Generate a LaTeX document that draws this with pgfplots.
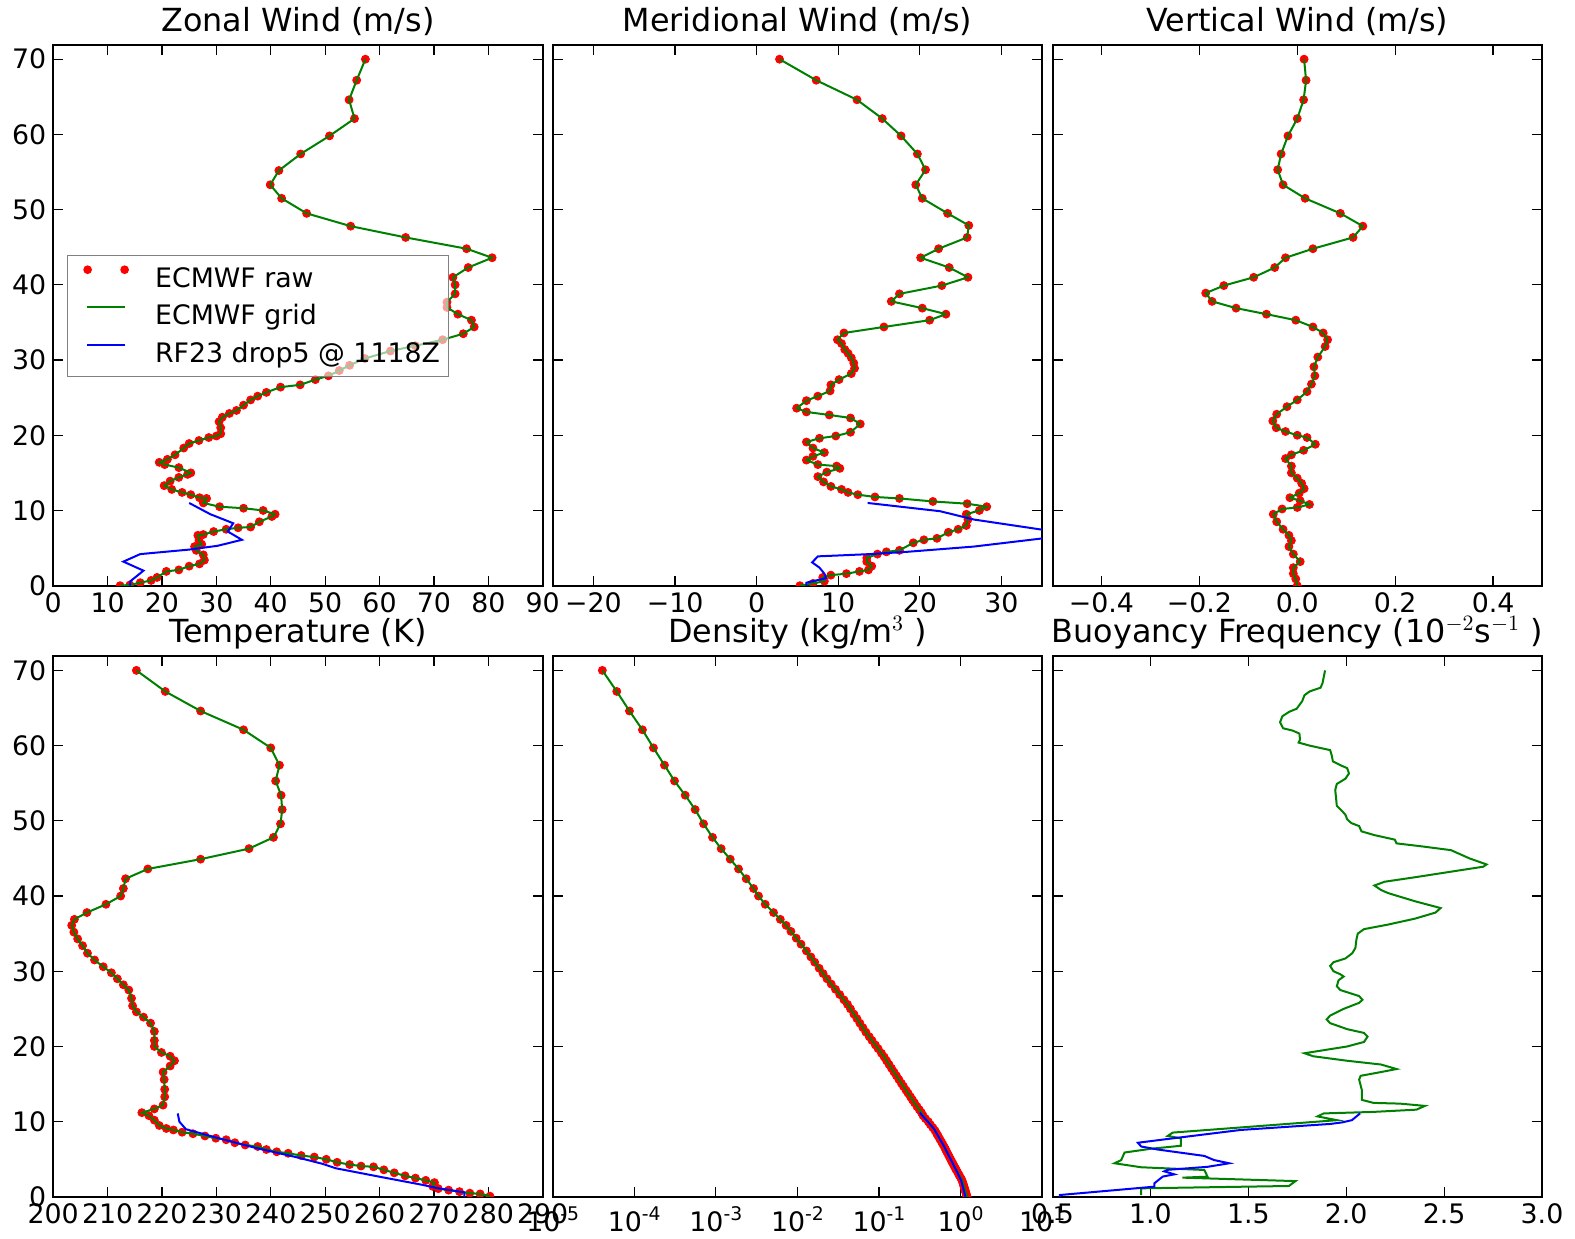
\documentclass[border=0pt]{standalone}
\usepackage{pgfplots}
\pgfplotsset{compat=1.18}
\usepackage{pgfplotstable}
\usepackage{fontspec}
\setmainfont{DejaVu Sans}

\newcommand\tickfont{\fontsize{13.4}{16}\selectfont}
\newcommand\titlefont{\fontsize{15.9}{19}\selectfont}
\newcommand\dec[1]{10\raisebox{0.41em}{\fontsize{9.4}{10}\selectfont #1}}
\definecolor{mplgreen}{rgb}{0,0.5,0}

% ---------------- zonal wind (m/s) vs altitude (km)
\pgfplotstableread{
u z
57.4 70.0
55.8 67.2
54.4 64.6
55.4 62.1
50.8 59.8
45.5 57.4
41.5 55.2
39.9 53.3
42.0 51.5
46.6 49.5
54.7 47.8
64.8 46.3
76.0 44.8
80.7 43.6
76.3 42.3
73.5 41.0
73.9 40.0
73.9 38.8
72.4 37.7
72.4 37.0
74.4 36.1
76.9 35.3
77.4 34.4
75.4 33.5
71.6 32.7
66.6 31.9
62.0 31.2
57.3 30.2
54.5 29.3
52.6 28.6
50.6 27.9
48.2 27.4
45.4 26.7
41.8 26.4
39.2 25.7
37.6 25.2
36.3 24.7
35.0 24.0
33.7 23.3
32.4 22.9
31.1 22.4
30.5 21.8
30.8 21.0
30.8 20.2
30.0 19.9
28.6 19.7
26.8 19.3
25.0 18.9
24.0 18.3
22.4 17.4
21.0 16.8
19.5 16.4
20.5 16.1
23.1 15.7
25.3 15.0
24.7 14.8
23.1 14.4
21.5 13.9
20.4 13.3
21.8 12.8
23.7 12.4
25.3 12.1
26.9 11.7
28.2 11.6
27.6 11.0
30.6 10.5
35.0 10.3
38.6 10.0
40.8 9.5
40.2 9.2
37.9 8.5
36.3 7.8
34.0 7.7
31.8 7.5
29.5 7.2
27.6 6.8
26.6 6.7
26.8 6.0
27.3 5.5
26.0 5.2
26.3 4.7
27.6 4.1
27.8 3.4
26.9 2.9
25.0 2.6
23.1 2.1
20.8 1.9
19.1 1.1
18.0 0.7
16.0 0.4
14.1 0.1
12.3 0.0
}\zonal
\pgfplotstableread{
u z
25.0 11.0
28.9 9.5
33.1 8.3
32.1 7.2
34.7 6.1
30.2 5.3
25.0 4.8
16.0 4.2
12.9 3.2
16.6 2.0
14.2 0.6
14.1 0.0
}\zonaldrop

% ---------------- meridional wind (m/s)
\pgfplotstableread{
v z
2.8 70.0
7.3 67.2
12.3 64.6
15.4 62.1
17.7 59.8
19.7 57.4
20.7 55.3
19.5 53.3
20.3 51.5
23.4 49.5
26.0 47.9
25.8 46.3
22.3 44.8
20.1 43.6
23.6 42.3
25.9 41.0
22.7 39.9
17.5 38.8
16.5 37.8
20.3 36.9
23.2 36.1
21.2 35.3
15.6 34.4
10.7 33.6
9.9 32.7
10.4 32.2
10.8 31.4
11.2 30.9
11.6 30.3
11.9 29.6
12.0 28.9
11.6 28.2
10.1 27.4
9.1 26.7
9.0 25.9
7.5 25.2
6.1 24.6
4.9 23.6
6.1 23.1
8.9 22.7
11.5 22.3
12.7 21.5
11.5 20.4
9.7 19.9
7.7 19.6
6.1 19.1
6.9 18.3
8.3 17.7
6.9 17.2
6.1 16.7
7.5 16.1
9.8 15.9
10.2 15.6
8.6 15.1
7.5 14.5
8.2 13.8
9.1 13.2
10.4 12.8
11.2 12.4
12.4 12.1
14.5 11.8
17.5 11.6
21.6 11.2
25.8 10.9
28.2 10.5
27.3 10.0
25.7 9.5
25.9 8.8
25.7 8.0
24.7 7.5
23.5 7.1
22.1 6.3
20.5 6.1
19.2 5.7
17.5 4.7
15.9 4.5
14.8 4.2
13.5 3.7
13.5 3.2
14.1 2.6
13.7 2.1
12.6 1.9
11.0 1.6
9.1 1.4
8.1 1.1
8.3 0.6
6.9 0.3
5.3 0.0
}\merid
\pgfplotstableread{
v z
13.6 11.0
22.5 9.9
26.6 8.8
39.0 6.8
26.6 5.2
18.4 4.5
13.9 4.2
7.5 3.9
6.8 3.1
7.7 2.4
8.3 1.6
8.5 1.0
6.1 0.4
6.1 0.0
}\meriddrop

% ---------------- vertical wind (m/s)
\pgfplotstableread{
w z
0.014 70.0
0.018 67.2
0.013 64.6
0.000 62.1
-0.019 59.8
-0.033 57.4
-0.040 55.3
-0.029 53.3
0.016 51.5
0.088 49.5
0.134 47.8
0.114 46.3
0.032 44.8
-0.024 43.6
-0.046 42.3
-0.089 41.0
-0.150 39.9
-0.187 38.9
-0.174 37.8
-0.125 36.9
-0.063 36.1
-0.003 35.3
0.032 34.4
0.053 33.6
0.062 32.7
0.057 31.8
0.042 30.4
0.034 29.1
0.036 27.9
0.029 26.8
0.020 25.8
0.000 24.7
-0.021 23.8
-0.042 22.8
-0.050 21.9
-0.043 21.0
-0.024 20.5
0.000 20.0
0.020 19.7
0.037 18.8
0.013 18.0
-0.012 17.4
-0.024 16.9
-0.012 15.9
-0.012 15.0
0.000 14.3
0.009 13.6
0.014 12.9
0.004 12.3
-0.015 11.7
0.006 11.3
0.025 10.8
0.000 10.4
-0.031 10.2
-0.049 9.5
-0.042 8.5
-0.029 7.5
-0.017 6.7
-0.012 6.0
-0.017 5.2
-0.008 4.2
0.006 3.2
-0.008 2.4
-0.008 1.6
-0.003 0.9
0.000 0.0
}\vert

% ---------------- temperature (K)
\pgfplotstableread{
T z
215.3 70.0
220.6 67.2
227.1 64.6
235.0 62.1
240.0 59.7
241.6 57.4
240.9 55.3
241.9 53.4
242.1 51.5
241.8 49.6
240.5 47.8
236.0 46.3
227.1 44.9
217.4 43.6
213.3 42.3
212.9 41.0
212.4 40.0
209.7 38.9
206.2 37.8
203.9 36.9
203.4 36.1
203.8 35.2
204.5 34.3
205.4 33.4
206.3 32.4
207.6 31.5
209.2 30.6
210.7 29.8
211.8 29.0
212.9 28.2
213.9 27.5
214.4 26.4
214.6 25.4
215.3 24.6
216.6 23.9
217.9 23.1
218.6 22.0
218.6 20.8
218.6 20.0
219.9 19.2
221.5 18.7
222.3 18.1
221.5 17.4
220.2 16.6
220.4 15.6
220.5 14.3
220.5 13.3
220.2 12.2
218.6 11.7
216.3 11.2
217.6 10.8
218.6 10.2
219.5 9.5
220.8 9.1
222.1 8.9
223.7 8.6
225.7 8.4
227.9 8.1
229.9 7.8
231.8 7.6
233.4 7.2
235.3 6.9
237.6 6.7
239.2 6.3
241.1 6.0
243.2 5.8
245.6 5.5
248.0 5.3
250.2 5.0
252.2 4.6
254.5 4.3
256.6 4.1
258.9 4.0
260.8 3.6
262.7 3.2
264.7 2.8
266.6 2.5
268.5 2.2
270.1 1.9
269.8 1.4
270.8 1.1
272.7 0.9
274.7 0.7
276.6 0.5
278.5 0.4
280.3 0.1
}\temp
\pgfplotstableread{
T z
222.9 11.1
223.2 10.0
224.4 9.0
229.9 7.9
237.3 6.5
244.6 5.3
249.5 4.4
252.0 3.8
260.6 2.6
267.9 1.6
270.4 1.2
275.6 0.6
275.6 0.0
}\tempdrop

% ---------------- density (kg/m^3)
\pgfplotstableread{
rho z
4.06e-5 70.0
6.10e-5 67.2
8.73e-5 64.6
1.259e-4 62.1
1.718e-4 59.7
2.344e-4 57.4
3.112e-4 55.3
4.207e-4 53.4
5.572e-4 51.5
7.063e-4 49.6
9.10e-4 47.8
1.161e-3 46.3
1.500e-3 44.9
1.897e-3 43.6
2.355e-3 42.3
2.897e-3 41.0
3.334e-3 40.0
4.027e-3 38.9
5.093e-3 37.8
6.166e-3 36.9
7.261e-3 36.1
8.318e-3 35.3
9.66e-3 34.4
1.107e-2 33.6
1.288e-2 32.7
1.462e-2 31.9
1.629e-2 31.2
1.845e-2 30.4
2.061e-2 29.7
2.301e-2 29.0
2.594e-2 28.3
2.924e-2 27.6
3.296e-2 26.9
3.715e-2 26.2
4.102e-2 25.6
4.467e-2 25.0
4.920e-2 24.3
5.358e-2 23.7
5.821e-2 23.1
6.339e-2 22.5
6.902e-2 21.9
7.586e-2 21.3
8.204e-2 20.8
9.016e-2 20.2
9.75e-2 19.7
0.1072 19.1
0.1156 18.6
0.1239 18.1
0.1327 17.6
0.1422 17.1
0.1524 16.6
0.1637 16.1
0.1754 15.6
0.1879 15.1
0.1991 14.7
0.2138 14.2
0.2265 13.8
0.2432 13.3
0.2570 12.9
0.2723 12.5
0.2924 12.0
0.3119 11.6
0.3311 11.2
0.3467 10.8
0.3715 10.4
0.4018 10.0
0.4266 9.6
0.4571 9.2
0.4864 8.8
0.5105 8.4
0.5297 8.1
0.5559 7.7
0.5834 7.3
0.6053 7.0
0.6339 6.6
0.6546 6.3
0.6761 6.0
0.7063 5.6
0.7295 5.3
0.7551 5.0
0.7798 4.7
0.8072 4.4
0.8337 4.1
0.8630 3.8
0.8831 3.6
0.9162 3.3
0.9484 3.0
0.9705 2.8
1.007 2.5
1.030 2.3
1.057 2.0
1.069 1.8
1.084 1.6
1.099 1.4
1.112 1.2
1.127 1.0
1.143 0.8
1.156 0.6
1.172 0.4
1.186 0.2
1.202 0.0
}\dens
\pgfplotstableread{
rho z
0.315 11.2
0.469 9.1
0.621 6.8
0.824 4.2
1.014 2.2
1.146 0.0
}\densdrop

% ---------------- buoyancy frequency (1e-2 / s)
\pgfplotstableread{
N z
1.892 70.0
1.879 68.3
1.869 67.7
1.813 67.2
1.787 66.7
1.775 65.9
1.761 65.4
1.747 64.9
1.709 64.5
1.674 63.9
1.662 63.1
1.678 62.3
1.726 62.0
1.761 61.6
1.764 60.8
1.757 60.4
1.813 60.0
1.865 59.7
1.918 59.4
1.926 58.7
1.932 57.9
1.970 57.4
2.005 57.0
2.014 56.3
1.996 55.6
1.952 54.9
1.944 54.1
1.949 52.8
1.952 52.0
1.979 51.3
1.996 50.8
2.005 50.2
2.026 49.7
2.066 49.3
2.078 48.6
2.144 48.1
2.248 47.5
2.257 47.0
2.387 46.6
2.535 46.1
2.630 45.0
2.717 44.2
2.700 43.9
2.526 43.2
2.352 42.5
2.196 41.9
2.144 41.4
2.178 40.8
2.213 40.4
2.352 39.3
2.482 38.4
2.456 37.8
2.352 37.0
2.213 36.2
2.091 35.6
2.059 35.0
2.052 34.2
2.047 33.1
2.031 32.4
1.996 31.7
1.935 31.2
1.918 30.7
1.935 30.0
1.970 29.6
1.987 29.3
1.961 28.8
1.952 28.0
1.970 27.5
2.066 26.7
2.083 26.2
2.066 25.8
1.987 25.0
1.918 24.1
1.900 23.6
1.918 23.1
2.005 22.3
2.091 21.8
2.109 21.3
2.091 20.6
2.005 20.0
1.787 19.1
1.831 18.7
2.005 18.1
2.178 17.6
2.257 17.0
2.178 16.6
2.074 16.1
2.066 15.6
2.071 15.1
2.080 14.2
2.080 12.9
2.139 12.5
2.275 12.4
2.402 12.1
2.359 11.6
2.139 11.3
1.885 11.1
1.854 10.7
1.953 10.2
1.800 9.9
1.114 8.55
1.088 8.1
1.156 7.8
1.156 6.8
1.003 6.4
0.868 5.9
0.851 4.9
0.817 4.47
0.953 3.94
1.275 3.58
1.292 2.69
1.164 2.56
1.741 2.1
1.707 1.45
0.953 1.14
0.953 0.25
}\buoy
\pgfplotstableread{
N z
2.071 11.1
2.029 10.2
1.978 9.9
1.919 9.7
1.461 8.9
1.088 7.7
0.936 7.2
0.953 6.7
1.037 6.3
1.275 5.45
1.325 4.9
1.402 4.47
1.292 4.0
1.088 3.6
1.071 3.4
1.122 3.0
1.063 2.7
1.020 1.8
1.020 1.36
0.537 0.25
0.537 0.0
}\buoydrop

\pgfplotsset{
  profile/.style={
    scale only axis, width=244.75pt, height=270.4pt, anchor=south west,
    ymin=0, ymax=71.9, ytick={0,10,...,70},
    axis line style={line width=1pt},
    tick align=inside,
    major tick length=5pt, minor tick length=2.5pt,
    every tick/.append style={line width=0.6pt, black},
    tick label style={font=\tickfont},
    /pgf/number format/assume math mode=true,
    title style={at={(0.5,1)}, anchor=base, yshift=0.7pt, font=\titlefont},
    clip marker paths=true,
  },
  nolabels/.style={yticklabels={}},
  ecraw/.style={only marks, mark=*, mark size=2.0pt, color=red,
    mark options={draw=none, fill=red}},
  ecgrid/.style={no marks, color=mplgreen, line width=1pt},
  ecdrop/.style={no marks, color=blue, line width=1pt},
  rawlegend/.style={legend image code/.code={
    \path (-5pt,4.8pt) (19pt,4.8pt);
    \fill[red, fill opacity=1] (0.4pt,4.8pt) circle (1.8pt);
    \fill[red, fill opacity=1] (18.9pt,4.8pt) circle (1.8pt);}},
  linelegend/.style={legend image code/.code={
    \path (-5pt,4.8pt) (19pt,4.8pt);
    \draw[##1] (0pt,4.8pt) -- (19pt,4.8pt);}},
}

\begin{document}
\begin{tikzpicture}
\useasboundingbox (0,0) rectangle (787.5pt,619pt);

% zonal wind
\begin{axis}[profile, at={(26.6pt,326.15pt)},
  title={Zonal Wind (m/s)},
  xmin=0, xmax=90, xtick={0,10,...,90},
  legend cell align=left,
  legend style={at={(0.0276,0.612)}, anchor=north west,
    draw=gray, line width=0.7pt, fill=white, fill opacity=0.6,
    draw opacity=1, text opacity=1, font=\tickfont,
    inner xsep=4.2pt, inner ysep=5pt, row sep=6.65pt, column sep=13.1pt,
    nodes={inner sep=0pt, text height=10pt, text depth=2.1pt}},
]
\addplot[ecraw, rawlegend] table[x=u, y=z] {\zonal};
\addlegendentry{ECMWF raw}
\addplot[ecgrid, linelegend] table[x=u, y=z] {\zonal};
\addlegendentry{ECMWF grid}
\addplot[ecdrop, linelegend] table[x=u, y=z] {\zonaldrop};
\addlegendentry{RF23 drop5 @ 1118Z}
\end{axis}

% meridional wind
\begin{axis}[profile, nolabels, at={(276.35pt,326.15pt)},
  title={Meridional Wind (m/s)},
  xmin=-25, xmax=35, xtick={-20,-10,...,30},
  xticklabels={−20,−10,0,10,20,30},
]
\addplot[ecraw] table[x=v, y=z] {\merid};
\addplot[ecgrid] table[x=v, y=z] {\merid};
\addplot[ecdrop] table[x=v, y=z] {\meriddrop};
\end{axis}

% vertical wind
\begin{axis}[profile, nolabels, at={(526.25pt,326.15pt)},
  title={Vertical Wind (m/s)},
  xmin=-0.5, xmax=0.5, xtick={-0.4,-0.2,0,0.2,0.4},
  xticklabels={−0.4,−0.2,0.0,0.2,0.4},
]
\addplot[ecraw] table[x=w, y=z] {\vert};
\addplot[ecgrid] table[x=w, y=z] {\vert};
\end{axis}

% temperature
\begin{axis}[profile, at={(26.6pt,20.55pt)},
  title={Temperature (K)},
  xmin=200, xmax=290, xtick={200,210,...,290},
]
\addplot[ecraw] table[x=T, y=z] {\temp};
\addplot[ecgrid] table[x=T, y=z] {\temp};
\addplot[ecdrop] table[x=T, y=z] {\tempdrop};
\end{axis}

% density
\begin{axis}[profile, nolabels, at={(276.35pt,20.55pt)},
  title={Density (kg/m$^{3}$ )},
  xmode=log, log basis x=10, xmin=1e-5, xmax=10,
  xtick={1e-5,1e-4,1e-3,1e-2,1e-1,1,10},
  xticklabels={\dec{-5},\dec{-4},\dec{-3},\dec{-2},\dec{-1},\dec{0},\dec{1}},
  xticklabel style={yshift=-1.5pt},
]
\addplot[ecraw] table[x=rho, y=z] {\dens};
\addplot[ecgrid] table[x=rho, y=z] {\dens};
\addplot[ecdrop] table[x=rho, y=z] {\densdrop};
\end{axis}

% buoyancy frequency
\begin{axis}[profile, nolabels, at={(526.25pt,20.55pt)},
  title={Buoyancy Frequency (10$^{-2}$s$^{-1}$ )},
  xmin=0.5, xmax=3.0, xtick={0.5,1.0,...,3.0},
  xticklabels={0.5,1.0,1.5,2.0,2.5,3.0},
]
\addplot[ecgrid] table[x=N, y=z] {\buoy};
\addplot[ecdrop] table[x=N, y=z] {\buoydrop};
\end{axis}
\end{tikzpicture}
\end{document}
